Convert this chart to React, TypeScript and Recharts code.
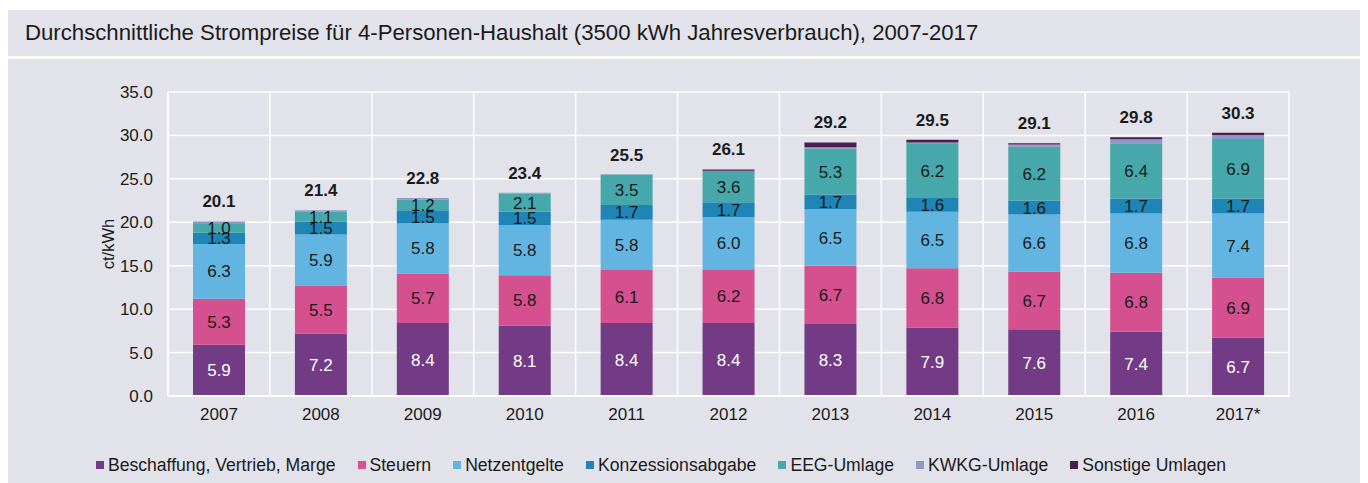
import React from 'react';
import {
    ComposedChart,
    Bar,
    Line,
    XAxis,
    YAxis,
    CartesianGrid,
    Legend,
    LabelList,
    Label,
} from 'recharts';

// Jahre und Anteile am Strompreis (ct/kWh)
const years = ['2007', '2008', '2009', '2010', '2011', '2012', '2013', '2014', '2015', '2016', '2017*'];
const beschaffung = [5.9, 7.2, 8.4, 8.1, 8.4, 8.4, 8.3, 7.9, 7.6, 7.4, 6.7];
const steuern = [5.3, 5.5, 5.7, 5.8, 6.1, 6.2, 6.7, 6.8, 6.7, 6.8, 6.9];
const netzentgelte = [6.3, 5.9, 5.8, 5.8, 5.8, 6.0, 6.5, 6.5, 6.6, 6.8, 7.4];
const konzession = [1.3, 1.5, 1.5, 1.5, 1.7, 1.7, 1.7, 1.6, 1.6, 1.7, 1.7];
const eeg = [1.0, 1.1, 1.2, 2.1, 3.5, 3.6, 5.3, 6.2, 6.2, 6.4, 6.9];
const kwkg = [0.3, 0.2, 0.2, 0.1, 0.03, 0.02, 0.13, 0.18, 0.25, 0.45, 0.44];
const sonstige = [0, 0, 0, 0, 0, 0.15, 0.57, 0.32, 0.15, 0.25, 0.26];
const totals = [20.1, 21.4, 22.8, 23.4, 25.5, 26.1, 29.2, 29.5, 29.1, 29.8, 30.3];
const yTicks = [0, 5, 10, 15, 20, 25, 30, 35];

const data = years.map((year, i) => ({
    year,
    beschaffung: beschaffung[i],
    steuern: steuern[i],
    netzentgelte: netzentgelte[i],
    konzession: konzession[i],
    eeg: eeg[i],
    kwkg: kwkg[i],
    sonstige: sonstige[i],
    total: totals[i],
}));

const series = [
    { key: 'beschaffung', name: 'Beschaffung, Vertrieb, Marge', color: '#733b86', labelColor: '#ffffff', showValue: true },
    { key: 'steuern', name: 'Steuern', color: '#d4508e', labelColor: '#1a1a1a', showValue: true },
    { key: 'netzentgelte', name: 'Netzentgelte', color: '#62b5e1', labelColor: '#1a1a1a', showValue: true },
    { key: 'konzession', name: 'Konzessionsabgabe', color: '#1f84b6', labelColor: '#1a1a1a', showValue: true },
    { key: 'eeg', name: 'EEG-Umlage', color: '#47a8ab', labelColor: '#1a1a1a', showValue: true },
    { key: 'kwkg', name: 'KWKG-Umlage', color: '#8e98c8', labelColor: '#1a1a1a', showValue: false },
    { key: 'sonstige', name: 'Sonstige Umlagen', color: '#4a1e4e', labelColor: '#1a1a1a', showValue: false },
];

const FONT = '"Liberation Sans", Arial, sans-serif';
const PANEL = '#e2e2ea';
const TEXT = '#1a1a1a';

// legend drawn in the order of the stack, like the original
function renderLegend() {
    return (
        <div
            style={{
                width: 1306,
                height: 22,
                display: 'flex',
                justifyContent: 'center',
                alignItems: 'center',
                fontSize: 17.6,
                fontFamily: FONT,
                color: TEXT,
                whiteSpace: 'nowrap',
            }}
        >
            {series.map((s, i) => (
                <span
                    key={s.key}
                    style={{ display: 'flex', alignItems: 'center', marginRight: i < series.length - 1 ? 22 : 0 }}
                >
                    <span style={{ width: 8, height: 8, background: s.color, marginRight: 4, display: 'inline-block' }} />
                    {s.name}
                </span>
            ))}
        </div>
    );
}

export default function App() {
    return (
        <div style={{ width: 1356, fontFamily: FONT, paddingTop: 2 }}>
            <div
                style={{
                    height: 46,
                    background: PANEL,
                    display: 'flex',
                    alignItems: 'center',
                    paddingLeft: 17,
                    fontSize: 22.2,
                    color: TEXT,
                    whiteSpace: 'nowrap',
                }}
            >
                Durchschnittliche Strompreise für 4-Personen-Haushalt (3500 kWh Jahresverbrauch), 2007-2017
            </div>
            <div style={{ height: 3 }} />
            <div style={{ background: PANEL, height: 424 }}>
                <ComposedChart
                    width={1356}
                    height={424}
                    data={data}
                    margin={{ top: 33, right: 75, bottom: 7, left: 0 }}
                    barSize={52}
                >
                    <CartesianGrid
                        stroke="#ffffff"
                        strokeWidth={1.5}
                        verticalCoordinatesGenerator={({ offset }: any) =>
                            Array.from({ length: years.length + 1 }, (_, i) => offset.left + (i * offset.width) / years.length)
                        }
                    />
                    <XAxis
                        dataKey="year"
                        height={58}
                        tickSize={0}
                        tickMargin={12}
                        axisLine={{ stroke: '#ffffff', strokeWidth: 2 }}
                        tick={{ fill: TEXT, fontSize: 17, fontFamily: FONT }}
                    />
                    <YAxis
                        width={160}
                        domain={[0, 35]}
                        ticks={yTicks}
                        tickSize={0}
                        tickMargin={15}
                        axisLine={{ stroke: '#ffffff', strokeWidth: 2 }}
                        tickFormatter={(v: number) => v.toFixed(1)}
                        tick={{ fill: TEXT, fontSize: 17, fontFamily: FONT }}
                    >
                        <Label
                            content={({ viewBox }: any) => {
                                const cx = viewBox.x + 100;
                                const cy = viewBox.y + viewBox.height / 2;
                                return (
                                    <text
                                        x={cx}
                                        y={cy}
                                        transform={`rotate(-90 ${cx} ${cy})`}
                                        textAnchor="middle"
                                        dominantBaseline="central"
                                        fill={TEXT}
                                        fontSize={16.5}
                                        fontFamily={FONT}
                                    >
                                        ct/kWh
                                    </text>
                                );
                            }}
                        />
                    </YAxis>
                    <Legend
                        verticalAlign="bottom"
                        content={renderLegend}
                        wrapperStyle={{ left: 0, width: 1306 }}
                    />
                    {series.map((s) => (
                        <Bar
                            key={s.key}
                            dataKey={s.key}
                            name={s.name}
                            stackId="a"
                            fill={s.color}
                            isAnimationActive={false}
                        >
                            {s.showValue && (
                                <LabelList
                                    dataKey={s.key}
                                    position="center"
                                    fill={s.labelColor}
                                    fontSize={17}
                                    fontFamily={FONT}
                                    formatter={(v: any) => Number(v).toFixed(1)}
                                />
                            )}
                        </Bar>
                    ))}
                    {/* invisible line carrying the total above each column */}
                    <Line
                        dataKey="total"
                        stroke="none"
                        dot={false}
                        activeDot={false}
                        legendType="none"
                        isAnimationActive={false}
                    >
                        <LabelList
                            dataKey="total"
                            position="top"
                            offset={14}
                            fill={TEXT}
                            fontSize={17}
                            fontWeight="bold"
                            fontFamily={FONT}
                            formatter={(v: any) => Number(v).toFixed(1)}
                        />
                    </Line>
                </ComposedChart>
            </div>
        </div>
    );
}
